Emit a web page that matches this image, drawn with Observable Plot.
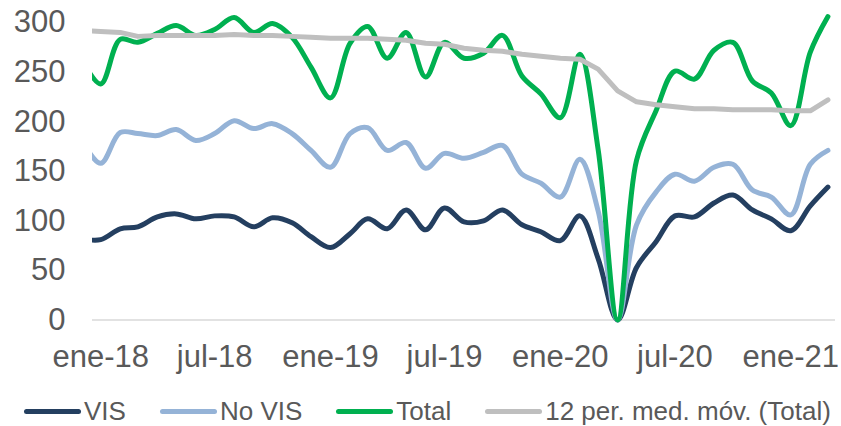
<!DOCTYPE html>
<html><head><meta charset="utf-8">
<script src="https://cdn.jsdelivr.net/npm/d3@7"></script>
<script src="https://cdn.jsdelivr.net/npm/@observablehq/plot@0.6"></script>
<style>
body{margin:0;background:#fff;font-family:"Liberation Sans",Arial,sans-serif;}
#wrap{position:relative;width:841px;height:426px;overflow:hidden;}
#legend{position:absolute;left:24px;top:396px;display:flex;align-items:center;font-size:26px;color:#595959;line-height:30px;white-space:nowrap;}
.item{display:flex;align-items:center;margin-right:34px;}
.sw{width:57px;height:5px;border-radius:3px;margin-right:3px;}
</style></head><body>
<div id="wrap"><div id="chart"></div><div id="legend"></div></div>
<script>
const months = ["2017-12",
  "2018-01","2018-02","2018-03","2018-04","2018-05","2018-06","2018-07","2018-08","2018-09","2018-10","2018-11","2018-12",
  "2019-01","2019-02","2019-03","2019-04","2019-05","2019-06","2019-07","2019-08","2019-09","2019-10","2019-11","2019-12",
  "2020-01","2020-02","2020-03","2020-04","2020-05","2020-06","2020-07","2020-08","2020-09","2020-10","2020-11","2020-12",
  "2021-01","2021-02","2021-03"];
const vis = [82,
  81,92,94,104,107,102,105,104,94,103,98,84,
  73,87,102,92,111,91,113,99,100,111,96,89,
  80,105,62,0,53,79,105,104,118,126,111,102,
  90,115,134];
const noVis = [182,
  158,189,188,186,192,181,188,201,193,198,188,171,
  154,188,194,171,179,153,168,163,169,176,147,138,
  124,162,110,0,96,129,147,140,154,157,131,124,
  106,157,171];
const total = [264,
  238,283,280,289,297,287,293,305,290,299,285,255,
  224,279,296,264,290,245,280,264,269,287,246,228,
  204,268,172,0,161,211,251,243,272,280,241,229,
  196,270,306];
const movAvg = [292,
  291,290,286,287,287,287,287,288,287,287,286,285,
  284,284,284,283,282,279,278,274,272,271,268,266,
  264,263,253,231,220,217,215,213,213,212,212,212,
  211,211,222];
const seriesNames = ["VIS","No VIS","Total","12 per. med. móv. (Total)"];
const seriesColors = ["#243F60","#95B3D7","#00B050","#BFBFBF"];
const tickMonths = ["2018-01","2018-07","2019-01","2019-07","2020-01","2020-07","2021-01"];
const tickLabels = ["ene-18","jul-18","ene-19","jul-19","ene-20","jul-20","ene-21"];
const yTicks = [0,50,100,150,200,250,300];

const parse = d3.utcParse("%Y-%m");
const valuesList = [vis, noVis, total, movAvg];
const curves = ["catmull-rom","catmull-rom","catmull-rom","linear"];
const rows = seriesNames.map((name, k) => months.map((m, i) => ({date: parse(m), value: valuesList[k][i], name})));
const tickDates = tickMonths.map(parse);
const labelOf = new Map(tickDates.map((d, i) => [+d, tickLabels[i]]));

const chart = Plot.plot({
  width: 841, height: 390,
  marginLeft: 92, marginRight: 6, marginTop: 2.16, marginBottom: 65.54,
  style: {fontFamily: "'Liberation Sans', Arial, sans-serif", fontSize: "31px", color: "#595959", background: "#fff", overflow: "visible"},
  x: {type: "utc", domain: [new Date(Date.UTC(2017,11,19)), new Date(Date.UTC(2021,2,13))]},
  y: {domain: [-5, 320]},
  marks: [
    Plot.ruleY([0], {stroke: "#d9d9d9", strokeWidth: 1.5}),
    Plot.axisY({ticks: yTicks, tickSize: 0, tickPadding: 27, label: null, fontSize: 31}),
    Plot.axisX({ticks: tickDates, tickFormat: d => labelOf.get(+d), tickSize: 0, tickPadding: 20, label: null, fontSize: 31}),
    ...rows.map((r, k) => Plot.line(r, {x: "date", y: "value", stroke: seriesColors[k], strokeWidth: 5, curve: curves[k], strokeLinecap: "round", strokeLinejoin: "round", clip: true}))
  ]
});
document.getElementById("chart").appendChild(chart);

const legend = document.getElementById("legend");
seriesNames.forEach((n, k) => {
  const it = document.createElement("div"); it.className = "item";
  const sw = document.createElement("div"); sw.className = "sw"; sw.style.background = seriesColors[k];
  const tx = document.createElement("span"); tx.textContent = n;
  it.appendChild(sw); it.appendChild(tx); legend.appendChild(it);
});
</script></body></html>
